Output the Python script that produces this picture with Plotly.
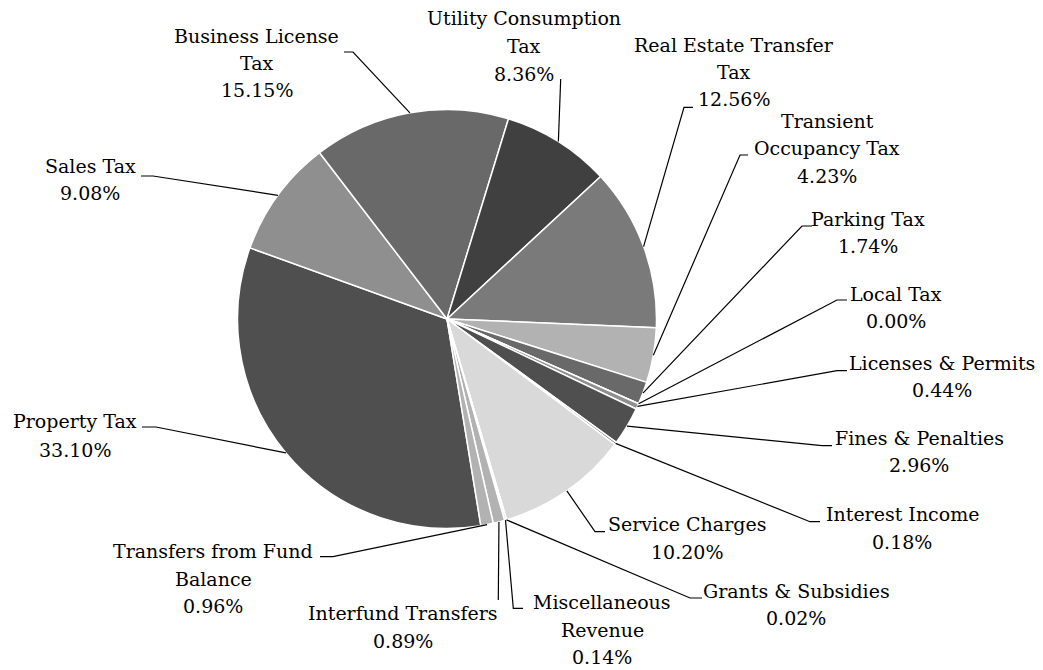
import math
import plotly.graph_objects as go

# ---------------- data ----------------
categories = [
    "Property Tax", "Sales Tax", "Business License Tax", "Utility Consumption Tax",
    "Real Estate Transfer Tax", "Transient Occupancy Tax", "Parking Tax", "Local Tax",
    "Licenses & Permits", "Fines & Penalties", "Interest Income", "Service Charges",
    "Grants & Subsidies", "Miscellaneous Revenue", "Interfund Transfers",
    "Transfers from Fund Balance",
]
values = [33.10, 9.08, 15.15, 8.36, 12.56, 4.23, 1.74, 0.00,
          0.44, 2.96, 0.18, 10.20, 0.02, 0.14, 0.89, 0.96]
label_lines = [
    ["Property Tax"], ["Sales Tax"], ["Business License", "Tax"],
    ["Utility Consumption", "Tax"], ["Real Estate Transfer", "Tax"],
    ["Transient", "Occupancy Tax"], ["Parking Tax"], ["Local Tax"],
    ["Licenses & Permits"], ["Fines & Penalties"], ["Interest Income"],
    ["Service Charges"], ["Grants & Subsidies"], ["Miscellaneous", "Revenue"],
    ["Interfund Transfers"], ["Transfers from Fund", "Balance"],
]
colors = ["#4f4f4f", "#8f8f8f", "#696969", "#404040", "#7a7a7a", "#b2b2b2",
          "#696969", "#404040", "#8f8f8f", "#4f4f4f", "#7a7a7a", "#d9d9d9",
          "#696969", "#d0d0d0", "#b2b2b2", "#b2b2b2"]

# ---------------- layout constants (pixels) ----------------
W, H = 1043, 670
CX, CY, R = 447.0, 319.0, 209.5
ROTATION = 170.7
FONT = dict(family="DejaVu Serif", size=19, color="#000000")

# label centre x and the y of each text line
label_pos = [
    (75, [421, 449.5]),
    (90, [165.8, 193]),
    (256.5, [36.3, 63.3, 90.3]),
    (524, [18.5, 46, 73.5]),
    (734, [45, 72.3, 99.4]),
    (827, [121, 148, 175.5]),
    (868, [218.5, 245.8]),
    (896, [293.6, 320.5]),
    (942, [363, 390]),
    (919, [438, 465]),
    (902, [514.2, 541.5]),
    (687, [524.2, 551.5]),
    (796, [591, 618.3]),
    (602, [601.7, 629.5, 657]),
    (402.5, [612.5, 641]),
    (213, [551, 578.5, 606]),
]
# leader-line start points near the labels (pixels)
leader_start = [
    [(142, 427), (156, 427)],
    [(141, 176), (153, 176)],
    [(344, 52), (353, 52)],
    [(560.7, 79)],
    [(693, 107.3), (684, 107.3)],
    [(748, 155), (740, 155)],
    [(812, 226), (802, 226)],
    [(847, 300), (837, 300)],
    [(847, 370.7), (837, 370.7)],
    [(832, 445.7), (822, 445.7)],
    [(820, 521.7), (810, 521.7)],
    [(605, 531.7), (595, 531.7)],
    [(702, 598), (690, 598)],
    [(523, 608.3), (513.3, 608.3)],
    [(498.3, 600)],
    [(320, 556.7), (333, 556.7)],
]


def px(x):
    return x / W


def py(y):
    return 1 - y / H


fig = go.Figure(go.Pie(
    labels=categories,
    values=values,
    sort=False,
    direction="clockwise",
    rotation=ROTATION,
    marker=dict(colors=colors, line=dict(color="#ffffff", width=1.5)),
    textinfo="none",
    hoverinfo="label+percent",
    showlegend=False,
    domain=dict(x=[px(CX - R), px(CX + R)], y=[py(CY + R), py(CY - R)]),
))

annotations = []
shapes = []
total = sum(values)
cum = 0.0
for i, v in enumerate(values):
    mid = math.radians(ROTATION + (cum + v / 2) / total * 360)
    cum += v
    ex = CX + R * math.sin(mid)
    ey = CY - R * math.cos(mid)
    pts = leader_start[i] + [(ex, ey)]
    path = "M " + " L ".join(f"{px(x):.5f},{py(y):.5f}" for x, y in pts)
    shapes.append(dict(type="path", xref="paper", yref="paper", path=path,
                       line=dict(color="#000000", width=1.2)))
    cx, ys = label_pos[i]
    lines = label_lines[i] + [f"{v:.2f}%"]
    for txt, yy in zip(lines, ys):
        annotations.append(dict(x=px(cx), y=py(yy), xref="paper", yref="paper",
                                text=txt, showarrow=False, xanchor="center",
                                yanchor="middle", font=FONT))

fig.update_layout(
    width=W, height=H,
    margin=dict(l=0, r=0, t=0, b=0),
    paper_bgcolor="#ffffff",
    plot_bgcolor="#ffffff",
    annotations=annotations,
    shapes=shapes,
)

fig.write_html(
    "out.html",
    config={"displayModeBar": False},
    post_script="document.body.style.margin='0';document.body.style.overflow='hidden';",
)
